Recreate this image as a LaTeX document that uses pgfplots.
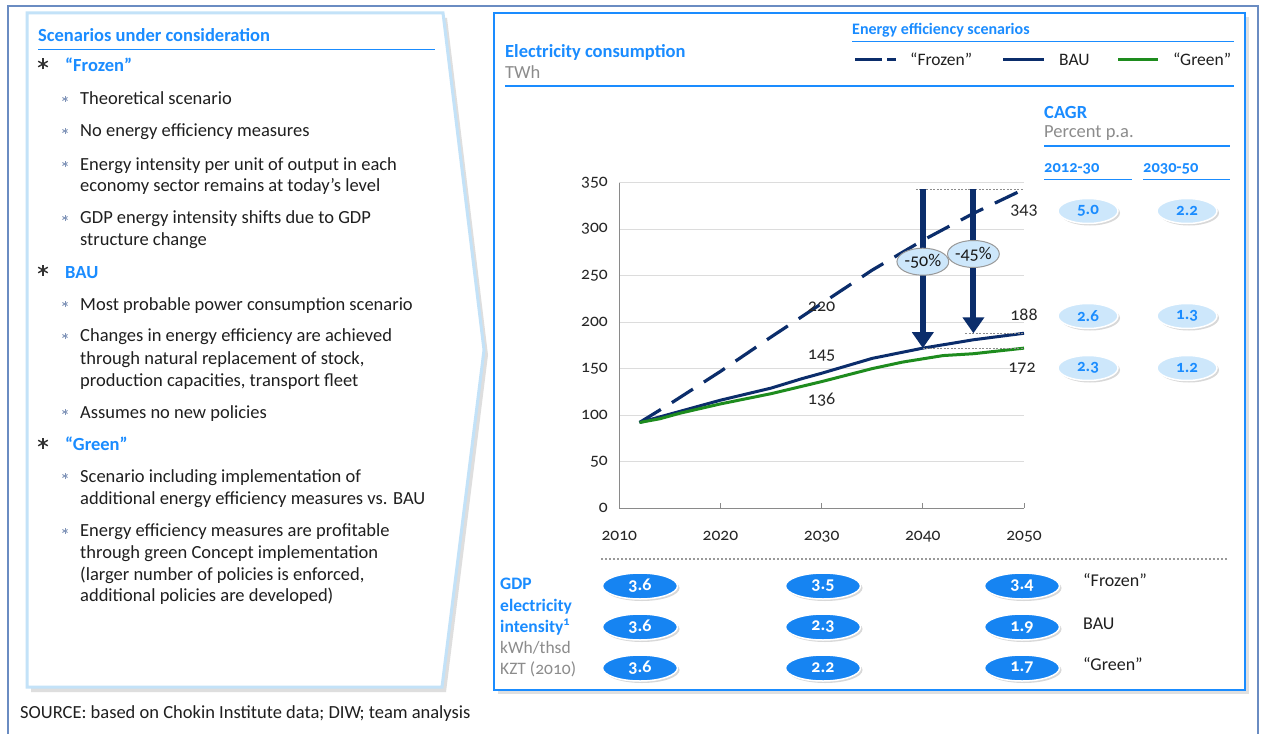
\documentclass[border=0pt]{standalone}
\usepackage{pgfplots}
\pgfplotsset{compat=1.18}
\usepackage{fontspec}
\setmainfont{Carlito}[Numbers=OldStyle]
\usetikzlibrary{arrows.meta,shapes.geometric,shadows}

\definecolor{brightblue}{HTML}{1A8CFF}
\definecolor{ovalblue}{HTML}{1684F2}
\definecolor{navy}{HTML}{0B2D6B}
\definecolor{greenline}{HTML}{1E8C1E}
\definecolor{lightoval}{HTML}{CDE7FB}
\definecolor{panelblue}{HTML}{C3E2F8}
\definecolor{frameblue}{HTML}{6A8CC2}
\definecolor{graytext}{HTML}{8C8C8C}
\definecolor{axgray}{HTML}{8A8A8A}
\definecolor{gridgray}{HTML}{DCDCDC}
\definecolor{subbullet}{HTML}{7F93B8}

\newcommand{\fs}[1]{\fontsize{#1}{#1}\selectfont}

\tikzset{
  txt/.style={anchor=base west, inner sep=0pt, font=\fs{18.5}, text=black!88},
  ast/.pic={\foreach \a in {90,150,210} \draw (\a:1) -- (\a+180:1);},
  bov/.style={ellipse, fill=ovalblue, draw=white, line width=1.5pt, minimum width=75pt,
    minimum height=26pt, inner sep=0pt, text=white, font=\fs{18}\bfseries,
    drop shadow={shadow xshift=2pt, shadow yshift=-2pt, opacity=0.3}},
  sov/.style={ellipse, fill=lightoval, draw=white, line width=1.5pt, minimum width=60pt,
    minimum height=25pt, inner sep=0pt, text=brightblue, font=\fs{17}\bfseries,
    drop shadow={shadow xshift=2pt, shadow yshift=-2pt, opacity=0.3}},
}

\begin{document}
\begin{tikzpicture}
\begin{scope}[x=1pt,y=-1pt]
\path[use as bounding box] (0,0) rectangle (1265,733);
\fill[white] (0,0) rectangle (1265,733);
\draw[frameblue, line width=2pt] (8,740) -- (8,6) -- (1258,6) -- (1258,740);

% left panel
\fill[black!13] (31,18) -- (447,18) -- (488,355) -- (446,692) -- (31,692) -- cycle;
\filldraw[draw=panelblue, fill=white, line width=3pt] (27,13) -- (443,13) -- (484,350) -- (442,687) -- (27,687) -- cycle;

% right panel
\fill[black!12] (498,17) rectangle (1249,694);
\filldraw[draw=brightblue, fill=white, line width=2.5pt] (494,13) rectangle (1245,690);

% left panel text
\node[txt, font=\fs{18.5}\bfseries, text=brightblue] at (38,41.7) {Scenarios under consideration};
\draw[brightblue, line width=1.2pt] (38,49.5) -- (435,49.5);

\foreach \y in {64,270,443}
  \pic[draw=black!80, line width=1.4pt, scale=5.5] at (43,\y) {ast};
\foreach \y in {99,131,164,218,304,336,412,476,531}
  \pic[draw=subbullet, line width=0.9pt, scale=3] at (65,\y) {ast};

\node[txt, font=\fs{18.5}\bfseries, text=brightblue] at (65,71.7) {``Frozen''};
\node[txt] at (80,105) {Theoretical scenario};
\node[txt] at (80,136.7) {No energy efficiency measures};
\node[txt] at (80,170) {Energy intensity per unit of output in each};
\node[txt] at (80,191.3) {economy sector remains at today's level};
\node[txt] at (80,223.3) {GDP energy intensity shifts due to GDP};
\node[txt] at (80,245) {structure change};
\node[txt, font=\fs{18.5}\bfseries, text=brightblue] at (65,278.3) {BAU};
\node[txt] at (80,310) {Most probable power consumption scenario};
\node[txt] at (80,341.7) {Changes in energy efficiency are achieved};
\node[txt] at (80,364) {through natural replacement of stock,};
\node[txt] at (80,386) {production capacities, transport fleet};
\node[txt] at (80,418.3) {Assumes no new policies};
\node[txt, font=\fs{18.5}\bfseries, text=brightblue] at (65,450) {``Green''};
\node[txt] at (80,482.7) {Scenario including implementation of};
\node[txt] at (80,504.3) {additional energy efficiency measures vs. BAU};
\node[txt] at (80,536.7) {Energy efficiency measures are profitable};
\node[txt] at (80,558.3) {through green Concept implementation};
\node[txt] at (80,580) {(larger number of policies is enforced,};
\node[txt] at (80,601.7) {additional policies are developed)};

\node[txt, font=\fs{18.5}] at (20,718.3) {SOURCE: based on Chokin Institute data; DIW; team analysis};

% right panel header
\node[txt, font=\fs{18.5}\bfseries, text=brightblue] at (505,57.3) {Electricity consumption};
\node[txt, font=\fs{18.5}, text=graytext] at (505,78.3) {TWh};
\draw[brightblue, line width=1.5pt] (505,86) -- (1234,86);
\node[txt, font=\fs{16}\bfseries, text=brightblue] at (852,34.3) {Energy efficiency scenarios};
\draw[brightblue, line width=1.2pt] (852,41.7) -- (1234,41.7);
\draw[navy, line width=3pt] (855,60) -- (882,60) (887,60) -- (896,60);
\node[txt, font=\fs{17.5}] at (910,65.5) {``Frozen''};
\draw[navy, line width=3pt] (1003,60) -- (1044,60);
\node[txt, font=\fs{17.5}] at (1059,65.5) {BAU};
\draw[greenline, line width=3pt] (1118,60) -- (1158,60);
\node[txt, font=\fs{17.5}] at (1173,65.5) {``Green''};

% CAGR block
\node[txt, font=\fs{18.5}\bfseries, text=brightblue] at (1044,118.3) {CAGR};
\node[txt, font=\fs{18.5}, text=graytext] at (1044,137.7) {Percent p.a.};
\draw[brightblue, line width=1.5pt] (1044,146) -- (1230,146);
\node[txt, font=\fs{16.5}\bfseries, text=brightblue] at (1044,172.7) {2012-30};
\node[txt, font=\fs{16.5}\bfseries, text=brightblue] at (1143,172.7) {2030-50};
\draw[brightblue, line width=1.5pt] (1044,179.3) -- (1132,179.3) (1143,179.3) -- (1230,179.3);
\node[sov] at (1088,211) {5.0};
\node[sov] at (1187,211) {2.2};
\node[sov] at (1088,316) {2.6};
\node[sov] at (1187,316) {1.3};
\node[sov] at (1088,368) {2.3};
\node[sov] at (1187,368) {1.2};

% GDP electricity intensity block
\draw[black!40, line width=2.5pt, dash pattern=on 2pt off 2pt] (601,559) -- (1228,559);
\node[txt, font=\fs{17.5}\bfseries, text=brightblue] at (500,589) {GDP};
\node[txt, font=\fs{17.5}\bfseries, text=brightblue] at (500,611) {electricity};
\node[txt, font=\fs{17.5}\bfseries, text=brightblue] at (500,632) {intensity\textsuperscript{1}};
\node[txt, font=\fs{17.5}, text=graytext] at (500,653) {kWh/thsd};
\node[txt, font=\fs{17.5}, text=graytext] at (500,674) {KZT (2010)};
\node[bov] at (640,586) {3.6};
\node[bov] at (823,586) {3.5};
\node[bov] at (1022,586) {3.4};
\node[bov] at (640,627) {3.6};
\node[bov] at (823,627) {2.3};
\node[bov] at (1022,627) {1.9};
\node[bov] at (640,668) {3.6};
\node[bov] at (823,668) {2.2};
\node[bov] at (1022,668) {1.7};
\node[txt, font=\fs{18}] at (1083,586) {``Frozen''};
\node[txt, font=\fs{18}] at (1083,629) {BAU};
\node[txt, font=\fs{18}] at (1083,670) {``Green''};
\end{scope}

\begin{axis}[
  at={(619.3pt,-508pt)}, anchor=south west,
  scale only axis, width=404.7pt, height=325.3pt,
  xmin=2010, xmax=2050, ymin=0, ymax=350,
  axis x line*=bottom, axis y line*=left,
  axis line style={draw=axgray, line width=1pt},
  xtick={2010,2020,2030,2040,2050},
  xticklabels={2010,2020,2030,2040,2050},
  ytick={0,50,100,150,200,250,300,350},
  ymajorgrids, grid style={draw=gridgray, line width=0.8pt},
  tick align=inside, major tick length=5pt,
  x tick style={draw=axgray, line width=1pt},
  y tick style={draw=none},
  tick label style={font=\fs{17.5}, text=black!85},
  xticklabel style={yshift=-20pt},
  yticklabel style={xshift=-8pt},
  /pgf/number format/assume math mode=true,
  clip=false,
]
\addplot[navy, line width=3.2pt, dash pattern=on 25pt off 13pt] coordinates {
  (2012,92)(2015,112)(2020,147)(2025,184)(2030,220)(2035,256)(2040,288)(2045,317)(2050,343)};
\addplot[navy, line width=3pt] coordinates {
  (2012,92)(2015,101)(2020,116)(2025,129)(2028,139)(2030,145)(2035,161)(2040,172)(2045,181)(2050,188)};
\addplot[greenline, line width=3pt] coordinates {
  (2012,92)(2014,96)(2016,102)(2020,112)(2025,123)(2030,136)(2035,150)(2038,157)(2042,164)(2045,166)(2050,172)};

\draw[black!45, line width=0.8pt, dash pattern=on 2pt off 1.5pt] (axis cs:2039.3,343) -- (axis cs:2050,343);
\draw[black!45, line width=0.8pt, dash pattern=on 2pt off 1.5pt] (axis cs:2044.2,188) -- (axis cs:2050,188);
\draw[black!45, line width=0.8pt, dash pattern=on 2pt off 1.5pt] (axis cs:2040,172) -- (axis cs:2050,172);
\draw[navy, line width=6pt, -{Triangle[length=16pt,width=21pt]}] (axis cs:2040,343) -- (axis cs:2040,172);
\draw[navy, line width=6pt, -{Triangle[length=16pt,width=21pt]}] (axis cs:2045,343) -- (axis cs:2045,188);
\node[ellipse, fill=lightoval, draw=black!40, line width=1pt, minimum width=46pt, minimum height=27pt,
  inner sep=0pt, font=\fs{18}, text=black!90] at (axis cs:2040,265) {-50\%};
\node[ellipse, fill=lightoval, draw=black!40, line width=1pt, minimum width=46pt, minimum height=27pt,
  inner sep=0pt, font=\fs{18}, text=black!90] at (axis cs:2045,273.3) {-45\%};

\node[font=\fs{18}, text=black!85] at (axis cs:2050,319.6) {343};
\node[font=\fs{18}, text=black!85] at (axis cs:2050,207.7) {188};
\node[font=\fs{18}, text=black!85] at (axis cs:2049.8,149.6) {172};
\node[font=\fs{18}, text=black!85] at (axis cs:2030,216.6) {220};
\node[font=\fs{18}, text=black!85] at (axis cs:2030,163.5) {145};
\node[font=\fs{18}, text=black!85] at (axis cs:2030,116.2) {136};
\end{axis}
\end{tikzpicture}
\end{document}
